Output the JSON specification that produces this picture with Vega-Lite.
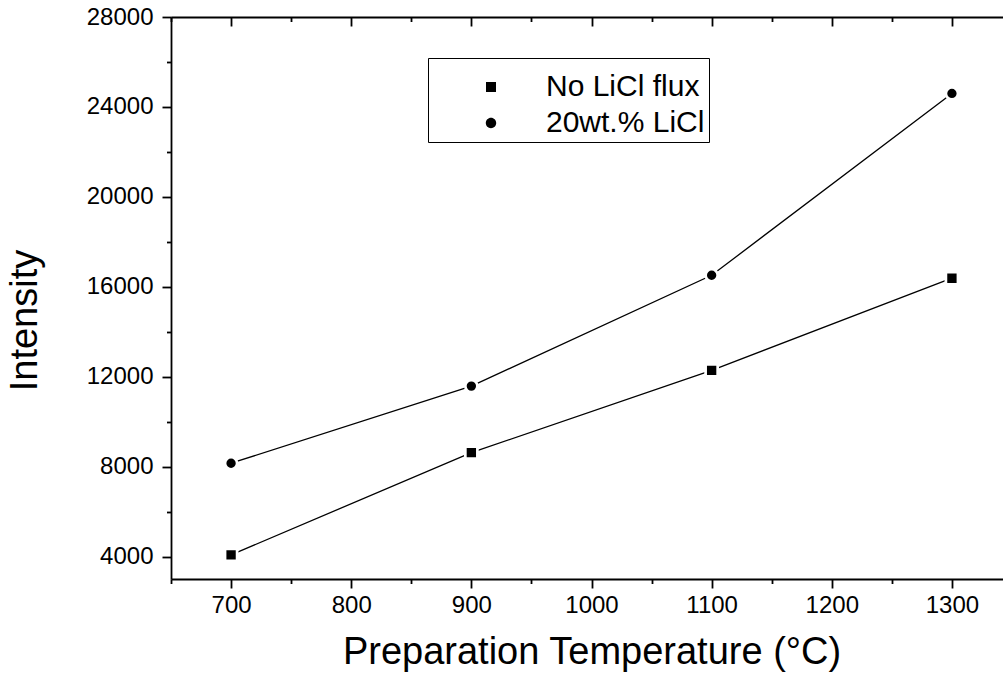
{
  "$schema": "https://vega.github.io/schema/vega-lite/v6.json",
  "autosize": "none",
  "padding": {"left": 171, "top": 17, "right": 0, "bottom": 98},
  "width": 841,
  "height": 562,
  "background": "white",
  "config": {
    "view": {"stroke": null},
    "font": "Liberation Sans",
    "axis": {"domainColor": "black", "domainWidth": 1.8, "tickColor": "black", "tickWidth": 1.8, "labelColor": "black", "titleColor": "black", "grid": false, "labelFont": "Liberation Sans", "titleFont": "Liberation Sans", "titleFontWeight": "normal"}
  },
  "data": {"values": [
    {"temp": 700, "intensity": 4075, "series": "No LiCl flux"},
    {"temp": 900, "intensity": 8620, "series": "No LiCl flux"},
    {"temp": 1100, "intensity": 12280, "series": "No LiCl flux"},
    {"temp": 1300, "intensity": 16380, "series": "No LiCl flux"},
    {"temp": 700, "intensity": 8150, "series": "20wt.% LiCl"},
    {"temp": 900, "intensity": 11580, "series": "20wt.% LiCl"},
    {"temp": 1100, "intensity": 16510, "series": "20wt.% LiCl"},
    {"temp": 1300, "intensity": 24600, "series": "20wt.% LiCl"}
  ]},
  "layer": [
    {
      "mark": {"type": "line", "color": "black", "strokeWidth": 1.3},
      "encoding": {
        "x": {"field": "temp", "type": "quantitative", "scale": {"domain": [650, 1350], "nice": false, "zero": false},
          "axis": {"orient": "bottom", "values": [700, 800, 900, 1000, 1100, 1200, 1300], "tickSize": 9, "labelFontSize": 24, "labelPadding": 5, "labelFlush": false, "labelOverlap": false, "format": "d", "title": "Preparation Temperature (°C)", "titleFontSize": 38, "titlePadding": 16}},
        "y": {"field": "intensity", "type": "quantitative", "scale": {"domain": [3000, 28000], "nice": false, "zero": false},
          "axis": {"orient": "left", "values": [4000, 8000, 12000, 16000, 20000, 24000, 28000], "tickSize": 9, "labelFontSize": 24, "labelPadding": 9, "labelFlush": false, "labelOverlap": false, "format": "d", "title": "Intensity", "titleFontSize": 38, "titleX": -146, "titleY": 303, "titleAngle": -90, "titleAlign": "center", "titleBaseline": "middle"}},
        "detail": {"field": "series"}
      }
    },
    {
      "transform": [{"filter": "datum.series === 'No LiCl flux'"}],
      "mark": {"type": "point", "shape": "square", "filled": true, "fill": "black", "stroke": "white", "strokeWidth": 2.7, "opacity": 1, "size": 145},
      "encoding": {
        "x": {"field": "temp", "type": "quantitative",
          "axis": {"orient": "top", "values": [700, 800, 900, 1000, 1100, 1200, 1300], "tickSize": -9, "labels": false, "title": null}},
        "y": {"field": "intensity", "type": "quantitative",
          "axis": {"orient": "right", "values": [4000, 8000, 12000, 16000, 20000, 24000, 28000], "tickSize": -9, "labels": false, "title": null}}
      }
    },
    {
      "transform": [{"filter": "datum.series === '20wt.% LiCl'"}],
      "mark": {"type": "point", "shape": "circle", "filled": true, "fill": "black", "stroke": "white", "strokeWidth": 2.7, "opacity": 1, "size": 145},
      "encoding": {
        "x": {"field": "temp", "type": "quantitative",
          "axis": {"orient": "bottom", "values": [650, 750, 850, 950, 1050, 1150, 1250, 1350], "tickSize": 4.5, "labels": false, "domain": false, "title": null}},
        "y": {"field": "intensity", "type": "quantitative",
          "axis": {"orient": "left", "values": [6000, 10000, 14000, 18000, 22000, 26000], "tickSize": 4.5, "labels": false, "domain": false, "title": null}}
      }
    },
    {
      "mark": {"type": "point", "filled": true, "fill": "black", "stroke": "black", "strokeWidth": 1.3, "opacity": 0},
      "encoding": {
        "x": {"field": "temp", "type": "quantitative",
          "axis": {"orient": "top", "values": [650, 750, 850, 950, 1050, 1150, 1250, 1350], "tickSize": -4.5, "labels": false, "domain": false, "title": null}},
        "y": {"field": "intensity", "type": "quantitative",
          "axis": {"orient": "right", "values": [6000, 10000, 14000, 18000, 22000, 26000], "tickSize": -4.5, "labels": false, "domain": false, "title": null}},
        "shape": {"field": "series", "type": "nominal",
          "scale": {"domain": ["No LiCl flux", "20wt.% LiCl"], "range": ["M-3.4,0H3.4M-0.5,-0.5H0.5V0.5H-0.5Z", "M-3.4,0H3.4M0.52,0A0.52,0.52,0,1,1,-0.52,0A0.52,0.52,0,1,1,0.52,0Z"]},
          "legend": {
            "orient": "none", "legendX": 257, "legendY": 41,
            "title": " ", "titleFontSize": 6, "titlePadding": 4,
            "padding": 4, "strokeColor": "black",
            "labelFontSize": 30, "labelFont": "Liberation Sans", "labelColor": "black",
            "symbolSize": 400, "symbolOffset": 44, "labelOffset": 40, "rowPadding": 6,
            "symbolFillColor": "black", "symbolStrokeColor": "black", "symbolStrokeWidth": 1.3
          }}
      }
    }
  ],
  "resolve": {"axis": {"x": "independent", "y": "independent"}}
}
